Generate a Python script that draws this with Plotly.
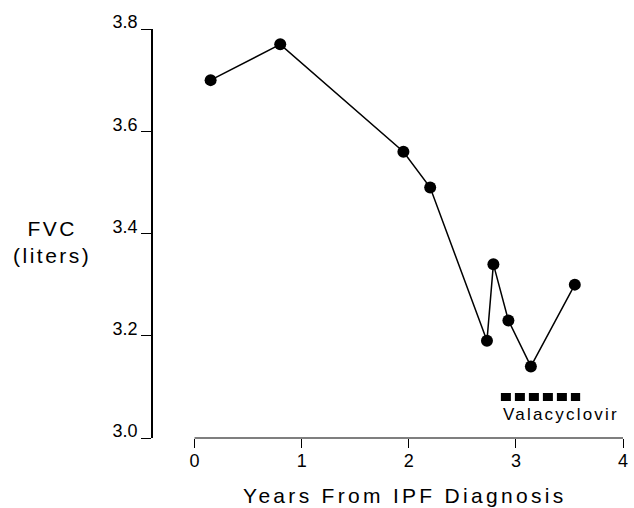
import plotly.graph_objects as go

# Data
years = [0.15, 0.80, 1.95, 2.20, 2.73, 2.79, 2.93, 3.14, 3.55]
fvc_liters = [3.70, 3.77, 3.56, 3.49, 3.19, 3.34, 3.23, 3.14, 3.30]

valacyclovir_start = 2.86
valacyclovir_end = 3.60
valacyclovir_level = 3.08
valacyclovir_label = "Valacyclovir"

x_ticks = [0, 1, 2, 3, 4]
y_ticks = [3.0, 3.2, 3.4, 3.6, 3.8]
y_tick_labels = ["3.0", "3.2", "3.4", "3.6", "3.8"]

FONT = "Liberation Sans, Arial, Helvetica, sans-serif"

W, H = 634, 508
ML, MR, MT, MB = 153, 6, 29, 70
PW = W - ML - MR
PH = H - MT - MB
x_min = -(195 - 153) / 108.3

def px_to_paper_x(px):
    return (px - ML) / PW

def px_to_paper_y(py):
    return (H - MB - py) / PH

fig = go.Figure()

fig.add_trace(go.Scatter(
    x=years, y=fvc_liters, mode="lines+markers",
    line=dict(color="black", width=1.5),
    marker=dict(color="black", size=12),
    showlegend=False, hoverinfo="skip",
))

fig.add_trace(go.Scatter(
    x=[valacyclovir_start, valacyclovir_end],
    y=[valacyclovir_level, valacyclovir_level],
    mode="lines",
    line=dict(color="black", width=8, dash="10px,4px"),
    showlegend=False, hoverinfo="skip",
))

fig.add_annotation(
    x=valacyclovir_start, y=valacyclovir_level, xref="x", yref="y",
    text='<span style="letter-spacing:2.2px">' + valacyclovir_label + "</span>",
    showarrow=False, xanchor="left", yanchor="top", yshift=-6,
    font=dict(family=FONT, size=17, color="black"),
)

# x-axis line spanning only the data range
fig.add_shape(
    type="line", xref="x", yref="paper",
    x0=x_ticks[0], x1=x_ticks[-1], y0=0, y1=0,
    line=dict(color="black", width=1.2),
)

fig.add_annotation(
    x=px_to_paper_x(407.5), y=px_to_paper_y(495), xref="paper", yref="paper",
    text='<span style="letter-spacing:3.3px">Years From IPF Diagnosis</span>',
    showarrow=False, xanchor="center", yanchor="middle",
    font=dict(family=FONT, size=21, color="black"),
)

fig.add_annotation(
    x=px_to_paper_x(51), y=px_to_paper_y(242.5), xref="paper", yref="paper",
    text='<span style="letter-spacing:2.5px">FVC</span><br><span style="letter-spacing:2.5px">(liters)</span>',
    showarrow=False, xanchor="center", yanchor="middle", align="center",
    font=dict(family=FONT, size=21, color="black"),
)

fig.update_xaxes(
    range=[x_min, 4], tickvals=x_ticks, ticktext=[str(t) for t in x_ticks],
    showline=False, showgrid=False, zeroline=False,
    ticks="outside", ticklen=9, tickwidth=1.2, tickcolor="black",
    ticklabelstandoff=-3,
    tickfont=dict(family=FONT, size=18, color="black"),
)
fig.update_yaxes(
    range=[3.0, 3.8], tickvals=y_ticks, ticktext=y_tick_labels,
    showline=True, linecolor="black", linewidth=1.5,
    showgrid=False, zeroline=False,
    ticks="outside", ticklen=10, tickwidth=1.2, tickcolor="black",
    ticklabelshift=-7,
    tickfont=dict(family=FONT, size=18, color="black"),
)

fig.update_layout(
    width=W, height=H,
    margin=dict(l=ML, r=MR, t=MT, b=MB),
    paper_bgcolor="white", plot_bgcolor="white",
    font=dict(family=FONT, color="black"),
)

fig.write_html("out.html")
